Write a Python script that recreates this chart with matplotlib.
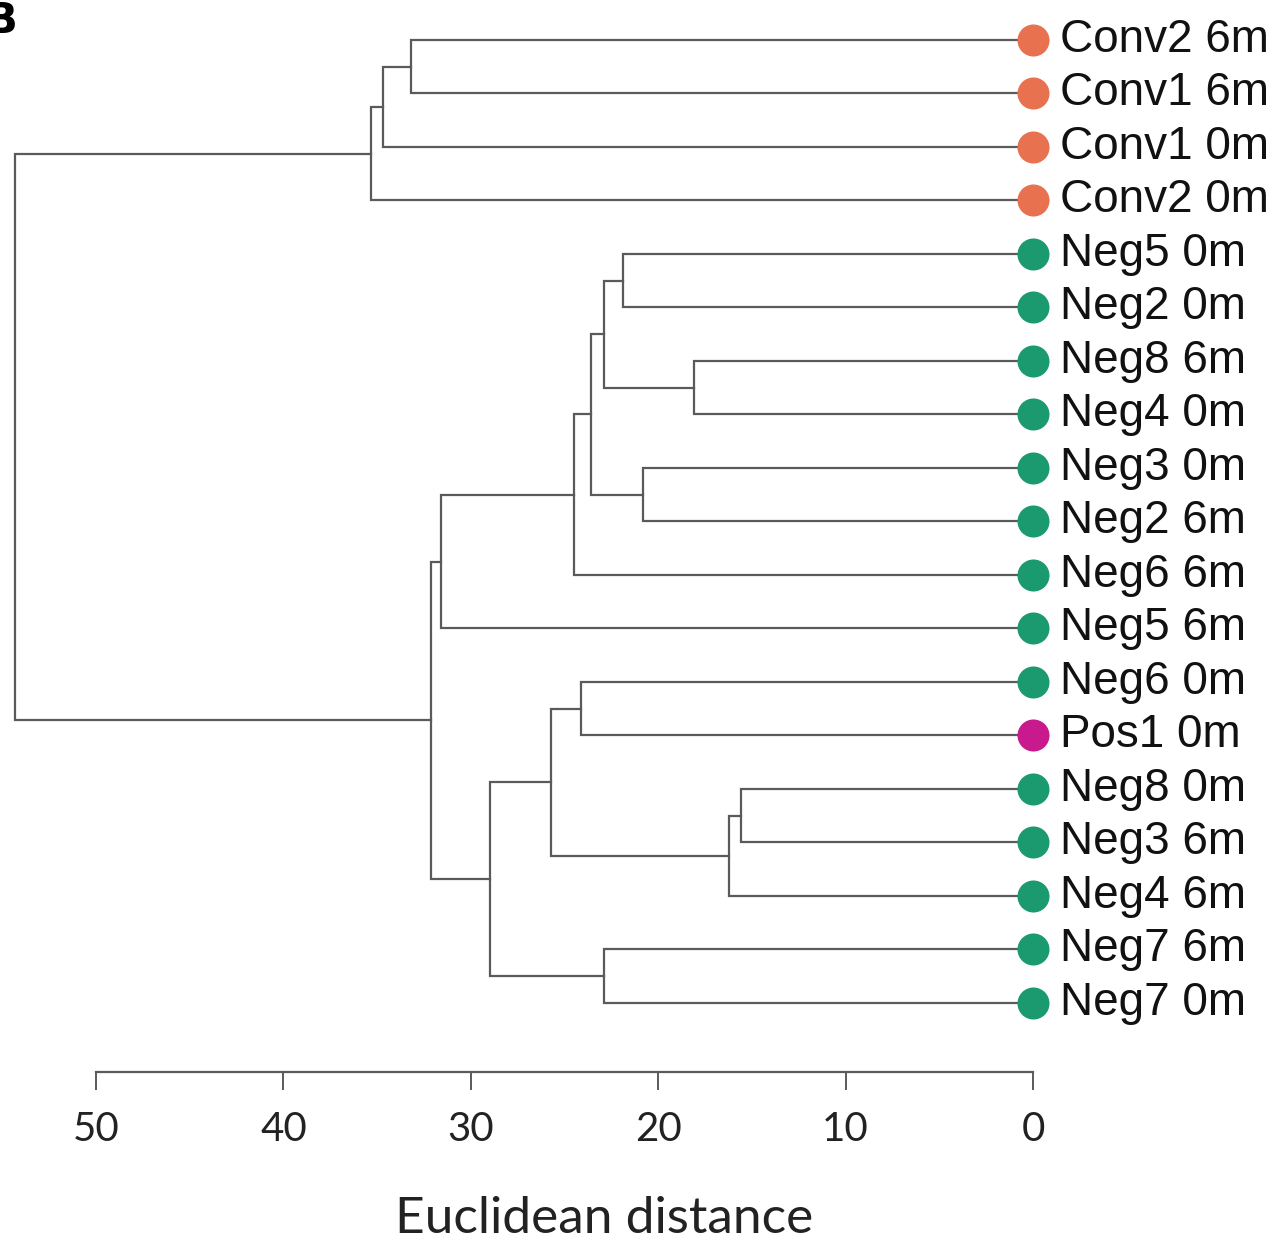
import matplotlib
matplotlib.use("Agg")
import matplotlib.pyplot as plt

# leaf order top -> bottom
labels = ["Conv2 6m", "Conv1 6m", "Conv1 0m", "Conv2 0m",
          "Neg5 0m", "Neg2 0m", "Neg8 6m", "Neg4 0m", "Neg3 0m", "Neg2 6m",
          "Neg6 6m", "Neg5 6m", "Neg6 0m", "Pos1 0m", "Neg8 0m", "Neg3 6m",
          "Neg4 6m", "Neg7 6m", "Neg7 0m"]
groups = ["conv"] * 4 + ["neg"] * 9 + ["pos"] + ["neg"] * 5

# merges like a linkage table: (child a, child b, height); new ids start at len(labels)
merge_a = [0, 19, 20, 4, 6, 22, 8, 24, 26, 27, 12, 14, 30, 29, 17, 32, 28, 21]
merge_b = [1, 2, 3, 5, 7, 23, 9, 25, 10, 11, 13, 15, 16, 31, 18, 33, 34, 35]
heights = [33.2, 34.7, 35.3, 21.9, 18.1, 22.9, 20.8, 23.6, 24.5, 31.6,
           24.1, 15.6, 16.2, 25.7, 22.9, 29.0, 32.1, 54.3]

ticks = [50, 40, 30, 20, 10, 0]
colors = {"conv": "#E8714F", "neg": "#1B9A6F", "pos": "#C81A8C"}
line_color = "#5a5a5a"

fig = plt.figure(figsize=(12.8, 12.42), dpi=100)
W, H = 1280, 1242
# pixel geometry of the reference
x0_px, x50_px = 1033, 96
scale = (x0_px - x50_px) / 50.0
top_px, bot_px = 40, 1003
axis_px = 1072
n = len(labels)
step = (bot_px - top_px) / (n - 1)

ax = fig.add_axes([0, 1 - axis_px / H, x0_px / W, (axis_px) / H])
ax.set_xlim(x0_px / scale, 0)
# y: leaf index, 0 at top
ax.set_ylim(n - 1 + (axis_px - bot_px) / step, -top_px / step)

# node positions
ypos = {i: float(i) for i in range(n)}
xpos = {i: 0.0 for i in range(n)}
for k, (a, b, h) in enumerate(zip(merge_a, merge_b, heights)):
    node = n + k
    ax.plot([xpos[a], h, h, xpos[b]], [ypos[a], ypos[a], ypos[b], ypos[b]],
            color=line_color, lw=1.6, solid_joinstyle="miter", zorder=1)
    xpos[node] = h
    ypos[node] = (ypos[a] + ypos[b]) / 2

for i, lab in enumerate(labels):
    ax.scatter([0], [i], s=32 ** 2 * 0.52, color=colors[groups[i]], zorder=3,
               clip_on=False, linewidths=0)
    ax.text(-1.45, i, lab, fontsize=33, family="Liberation Sans",
            va="center", ha="left", color="#111111", clip_on=False)

for s in ["top", "left", "right"]:
    ax.spines[s].set_visible(False)
ax.spines["bottom"].set_bounds(0, 50)
ax.spines["bottom"].set_color(line_color)
ax.spines["bottom"].set_linewidth(1.6)
ax.set_yticks([])
ax.set_xticks(ticks)
ax.set_xticklabels([str(t) for t in ticks], family="Lato", fontsize=29)
ax.tick_params(axis="x", direction="out", length=13, width=1.4,
               color=line_color, pad=15, labelcolor="#222222")
ax.set_xlabel("Euclidean distance", family="Lato", fontsize=37, color="#222222")
ax.xaxis.set_label_coords(604 / x0_px, -(1196 - axis_px) / axis_px)

fig.text(-0.012, 1.0, "B", fontsize=30, fontweight="bold", va="top", ha="left")

fig.savefig("out.png", dpi=100)
